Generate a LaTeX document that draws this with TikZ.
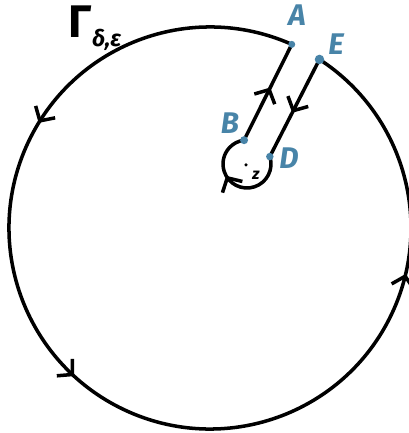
\documentclass[tikz,border=0pt]{standalone}
\usepackage{fontspec}
\newfontfamily\handfont{Fira Sans}
\usepackage{amsmath}
\usetikzlibrary{arrows.meta,decorations.markings}
\definecolor{ptblue}{RGB}{72,132,168}
\begin{document}
\begin{tikzpicture}[x=0.02cm,y=0.02cm,line width=2pt,
  >={Straight Barb[length=6pt,width=13pt]},
  dot/.style={circle,fill=ptblue,inner sep=0pt,minimum size=#1},
  lab/.style={text=ptblue,font=\handfont\bfseries\itshape\fontsize{17}{19}\selectfont,inner sep=0pt},
  marks/.style={postaction={decorate},decoration={markings,#1}}]
\useasboundingbox (0,0) rectangle (409,433);
\clip (0,0) rectangle (409,433);
\coordinate (C) at (210,205);
\coordinate (Cs) at (247,269);
\coordinate (A) at ([shift={(66:201)}]C);
\coordinate (E) at ([shift={(57:201)}]C);
\coordinate (B) at ([shift={(97:24)}]Cs);
\coordinate (D) at ([shift={(18:24)}]Cs);
% big circle
\draw[marks={mark=at position 0.235 with {\arrow{>}},mark=at position 0.46 with {\arrow{>}},mark=at position 0.80 with {\arrow{>}}}]
  (A) arc[start angle=66,end angle=417,radius=201];
% slit
\draw[marks={mark=at position 0.55 with {\arrow{>}}}] (E) -- (D);
\draw[marks={mark=at position 0.55 with {\arrow{>}}}] (B) -- (A);
% small circle
\draw[marks={mark=at position 0.60 with {\arrow{>}}}] (D) arc[start angle=18,end angle=-263,radius=24];
% dots
\node[dot=0.14cm] (dA) at (A) {};
\node[dot=0.19cm] (dE) at (E) {};
\node[dot=0.16cm] (dB) at (B) {};
\node[dot=0.15cm] (dD) at (D) {};
\node[circle,fill=black,inner sep=0pt,minimum size=0.07cm] (z) at (246,268) {};
% labels
\node[lab] (lA) at (297,418) {A};
\node[lab] (lE) at (336,389) {E};
\node[lab] (lB) at (230,310) {B};
\node[lab] (lD) at (289,275) {D};
\node[font=\handfont\bfseries\itshape\fontsize{9}{10}\selectfont,inner sep=0pt] (lz) at (256,258) {z};
\node[anchor=base west,inner sep=0pt,font=\handfont\bfseries\fontsize{26}{28}\selectfont] (G) at (67,395) {Γ\raisebox{-5pt}{\fontsize{13}{14}\selectfont\itshape δ,ε}};
\end{tikzpicture}
\end{document}
